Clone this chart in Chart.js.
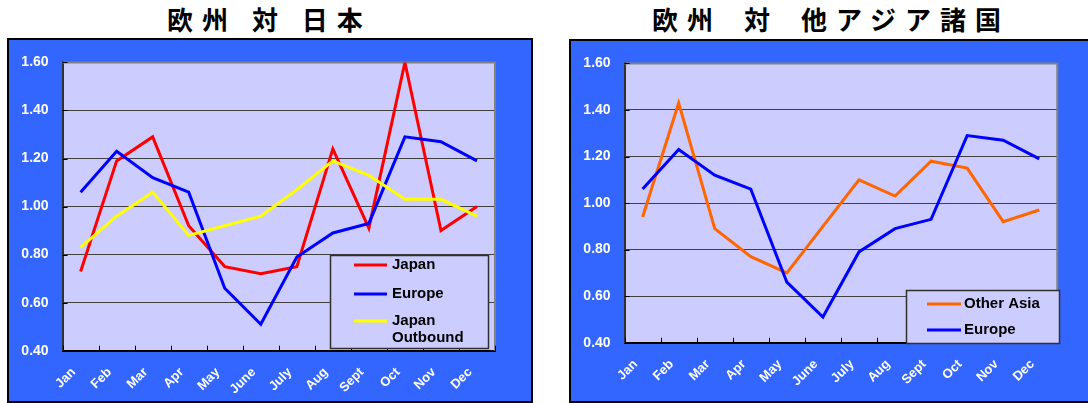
<!DOCTYPE html>
<html>
<head>
<meta charset="utf-8">
<script src="https://cdn.jsdelivr.net/npm/chart.js@4.4.1/dist/chart.umd.min.js"></script>
<style>
  body { margin: 0; background: #fff; width: 1088px; height: 403px; overflow: hidden; position: relative; }
  .title { position: absolute; top: 1px; font-family: "Noto Sans CJK JP", sans-serif; font-weight: bold;
           font-size: 26px; line-height: 36px; letter-spacing: 9px; white-space: pre; color: #000; }
  .panel { position: absolute; background: #3366ff; border: 2px solid #000; box-sizing: border-box; }
  .panel canvas { position: absolute; left: 0; top: 0; }
</style>
</head>
<body>
<div class="title" style="left:167px">欧州 対 日本</div>
<div class="title" style="left:652px">欧州&ensp;対&ensp;他アジア諸国</div>

<div class="panel" style="left:7px; top:38px; width:526px; height:365px">
  <canvas id="leftChart" width="522" height="361"></canvas>
</div>
<div class="panel" style="left:569px; top:39px; width:530px; height:364px">
  <canvas id="rightChart" width="526" height="360"></canvas>
</div>

<script>
// monthly index values
const months = ['Jan', 'Feb', 'Mar', 'Apr', 'May', 'June', 'July', 'Aug', 'Sept', 'Oct', 'Nov', 'Dec'];
const yTicks = [0.40, 0.60, 0.80, 1.00, 1.20, 1.40, 1.60];

const japan         = [0.73, 1.19, 1.29, 0.92, 0.75, 0.72, 0.75, 1.24, 0.91, 1.60, 0.90, 1.00];
const europe        = [1.06, 1.23, 1.12, 1.06, 0.66, 0.51, 0.79, 0.89, 0.93, 1.29, 1.27, 1.19];
const japanOutbound = [0.83, 0.96, 1.06, 0.88, 0.92, 0.96, 1.07, 1.19, 1.13, 1.03, 1.03, 0.96];
const otherAsia     = [0.94, 1.43, 0.89, 0.77, 0.70, 0.90, 1.10, 1.03, 1.18, 1.15, 0.92, 0.97];

const FONT = 'Liberation Sans';

// lavender plot area, grey frame, little inward tick marks
const plotArea = {
  id: 'plotArea',
  beforeDraw(chart) {
    const { ctx, chartArea: a } = chart;
    ctx.save();
    ctx.fillStyle = '#ccccff';
    ctx.fillRect(a.left, a.top, a.width, a.height);
    ctx.restore();
  },
  beforeDatasetsDraw(chart) {
    const { ctx, chartArea: a, scales } = chart;
    ctx.save();
    ctx.strokeStyle = '#808080';
    ctx.lineWidth = 2;
    ctx.beginPath();
    ctx.moveTo(a.left, a.top);
    ctx.lineTo(a.right, a.top);
    ctx.lineTo(a.right, a.bottom);
    ctx.stroke();

    ctx.strokeStyle = '#000';
    ctx.lineWidth = 1;
    const xs = scales.x;
    const step = xs.getPixelForValue(1) - xs.getPixelForValue(0);
    ctx.beginPath();
    for (let i = 0; i <= months.length; i++) {
      const x = Math.round(xs.getPixelForValue(i) - step / 2) + 0.5;
      ctx.moveTo(x, a.bottom);
      ctx.lineTo(x, a.bottom - 5);
    }
    scales.y.ticks.forEach(t => {
      const y = Math.round(scales.y.getPixelForValue(t.value)) + 0.5;
      ctx.moveTo(a.left, y);
      ctx.lineTo(a.left + 5, y);
    });
    ctx.stroke();
    ctx.restore();
  }
};

// boxed legend sitting inside the lower right of the plot
const boxLegend = {
  id: 'boxLegend',
  afterDatasetsDraw(chart, args, o) {
    const { ctx, chartArea: a } = chart;
    const x = Math.round(a.right - o.right - o.width);
    const y = Math.round(a.bottom - o.bottom - o.height);
    ctx.save();
    ctx.fillStyle = '#ccccff';
    ctx.fillRect(x, y, o.width, o.height);
    ctx.strokeStyle = '#303030';
    ctx.lineWidth = 1.5;
    ctx.strokeRect(x + 0.5, y + 0.5, o.width, o.height);

    ctx.font = 'bold 15px "' + FONT + '"';
    ctx.textBaseline = 'middle';
    const maxW = o.width - o.textX - 4;
    chart.data.datasets.forEach((ds, i) => {
      const ry = y + o.rows[i];
      ctx.strokeStyle = ds.borderColor;
      ctx.lineWidth = 3;
      ctx.beginPath();
      ctx.moveTo(x + o.lineX, ry);
      ctx.lineTo(x + o.lineX + o.lineLen, ry);
      ctx.stroke();

      // wrap long names onto a second line
      const lines = [];
      let cur = '';
      ds.label.split(' ').forEach(w => {
        const t = cur ? cur + ' ' + w : w;
        if (cur && ctx.measureText(t).width > maxW) { lines.push(cur); cur = w; }
        else cur = t;
      });
      lines.push(cur);
      ctx.fillStyle = '#000';
      lines.forEach((ln, k) => ctx.fillText(ln, x + o.textX, ry + k * 17));
    });
    ctx.restore();
  }
};

function makeChart(id, series, box) {
  const yFont = { family: FONT, size: 14, weight: 'bold' };
  const xFont = { family: FONT, size: 13, weight: 'bold' };
  return new Chart(document.getElementById(id), {
    type: 'line',
    data: {
      labels: months,
      datasets: series.map((s, i) => ({
        label: s.name,
        data: s.values,
        borderColor: s.color,
        borderWidth: 3,
        pointRadius: 0,
        tension: 0,
        order: series.length - i
      }))
    },
    options: {
      responsive: false,
      animation: false,
      events: [],
      layout: { padding: { top: box.top, right: box.right, left: 0, bottom: 0 } },
      scales: {
        x: {
          offset: true,
          grid: { display: false, drawTicks: false },
          border: { color: '#000', width: 2 },
          ticks: { color: '#fff', font: xFont, autoSkip: false, maxRotation: 45, minRotation: 45,
                   padding: 14, labelOffset: -7 },
          afterFit: s => { s.height = box.xHeight; }
        },
        y: {
          min: 0.4,
          max: 1.6,
          afterBuildTicks: s => { s.ticks = yTicks.map(v => ({ value: v })); },
          grid: { color: '#404040', lineWidth: 1, drawTicks: false },
          border: { color: '#303030', width: 2 },
          ticks: { color: '#fff', font: yFont, padding: 14, callback: v => v.toFixed(2) },
          afterFit: s => { s.width = box.yWidth; }
        }
      },
      plugins: {
        legend: { display: false },
        tooltip: { enabled: false },
        boxLegend: box.legend
      }
    },
    plugins: [plotArea, boxLegend]
  });
}

makeChart('leftChart', [
  { name: 'Japan', values: japan, color: '#ff0000' },
  { name: 'Europe', values: europe, color: '#0000ff' },
  { name: 'Japan Outbound', values: japanOutbound, color: '#ffff00' }
], {
  top: 20.7, right: 36, yWidth: 53.6, xHeight: 50.3,
  legend: { right: 7, bottom: 3, width: 158, height: 93, lineX: 24, lineLen: 33, textX: 62, rows: [10, 39, 66] }
});

makeChart('rightChart', [
  { name: 'Other Asia', values: otherAsia, color: '#ff6600' },
  { name: 'Europe', values: europe, color: '#0000ff' }
], {
  top: 22.3, right: 39.7, yWidth: 53.6, xHeight: 58.3,
  legend: { right: -2, bottom: 0, width: 153, height: 53, lineX: 21, lineLen: 34, textX: 58, rows: [14, 40] }
});
</script>
</body>
</html>
